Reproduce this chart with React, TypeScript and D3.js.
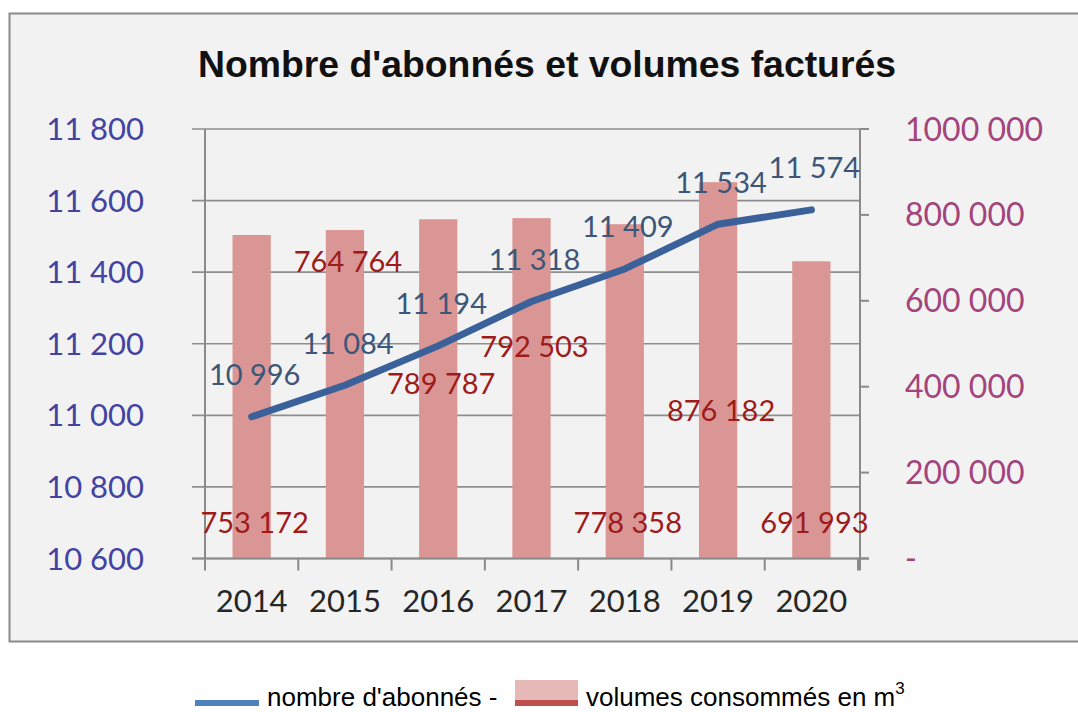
import React from "react";
import * as d3 from "d3";

const years = ["2014", "2015", "2016", "2017", "2018", "2019", "2020"];
const subscribers = [10996, 11084, 11194, 11318, 11409, 11534, 11574];
const volumes = [753172, 764764, 789787, 792503, 778358, 876182, 691993];
// where each volume label sits, expressed on the volume axis
const volumeLabelAnchor = [60000, 668000, 384000, 470000, 60000, 321000, 60000];
const leftTicks = [10600, 10800, 11000, 11200, 11400, 11600, 11800];
const leftTickLabels = ["10 600", "10 800", "11 000", "11 200", "11 400", "11 600", "11 800"];
const rightTicks = [0, 200000, 400000, 600000, 800000, 1000000];
const rightTickLabels = ["-", "200 000", "400 000", "600 000", "800 000", "1000 000"];

const title = "Nombre d'abonnés et volumes facturés";
const legendLine = "nombre d'abonnés -";
const legendBar = "volumes consommés en m";

const W = 1078;
const H = 712;
const PL = 205;
const PR = 860;
const PT = 129;
const PB = 558.5;

const fr = d3.formatLocale({ decimal: ",", thousands: " ", grouping: [3], currency: ["", " €"] });
const fmt = fr.format(",d");

const numFont = "Lato, 'Open Sans', sans-serif";
const arial = "'Liberation Sans', Arial, sans-serif";

export default function App() {
  const x = d3.scaleBand<string>().domain(years).range([PL, PR - 2]).padding(0);
  const yL = d3.scaleLinear().domain([10600, 11800]).range([PB, PT]);
  const yR = d3.scaleLinear().domain([0, 1000000]).range([PB, PT]);
  const bw = x.bandwidth() * 0.41;
  const cx = (d: string) => (x(d) as number) + x.bandwidth() / 2;

  const line = d3
    .line<number>()
    .x((_, i) => cx(years[i]))
    .y((v) => yL(v));

  const gridColor = "#8e8e8e";

  return (
    <svg
      width={W}
      height={H}
      style={{ position: "absolute", left: 0, top: 0, background: "#ffffff" }}
    >
      <rect x={9.5} y={13.5} width={1100} height={628} fill="#f2f2f2" stroke="#8a8a8a" strokeWidth={2} />

      <text
        x={547}
        y={77}
        textAnchor="middle"
        fontFamily={arial}
        fontWeight="bold"
        fontSize={37}
        textLength={698}
        lengthAdjust="spacingAndGlyphs"
        fill="#111"
      >
        {title}
      </text>

      {/* gridlines */}
      {leftTicks.map((t) => (
        <line key={"g" + t} x1={PL - 13} x2={PR} y1={yL(t)} y2={yL(t)} stroke={gridColor} strokeWidth={1.6} />
      ))}

      {/* bars */}
      {years.map((yr, i) => (
        <rect
          key={"b" + yr}
          x={cx(yr) - bw / 2}
          y={yR(volumes[i])}
          width={bw}
          height={PB - yR(volumes[i])}
          fill="#da9694"
        />
      ))}

      {/* axes */}
      <line x1={PL} x2={PL} y1={PT} y2={PB + 12} stroke="#8a8a8a" strokeWidth={2} />
      <line x1={PL - 13} x2={PR + 9} y1={PB} y2={PB} stroke="#8a8a8a" strokeWidth={2} />
      <line x1={PR} x2={PR} y1={PT} y2={PB + 12} stroke="#8a8a8a" strokeWidth={2} />
      {years.map((yr) => (
        <line
          key={"xt" + yr}
          x1={(x(yr) as number) + x.bandwidth()}
          x2={(x(yr) as number) + x.bandwidth()}
          y1={PB}
          y2={PB + 12}
          stroke="#8a8a8a"
          strokeWidth={2}
        />
      ))}
      {rightTicks.map((t) => (
        <line key={"rt" + t} x1={PR} x2={PR + 9} y1={yR(t)} y2={yR(t)} stroke="#8a8a8a" strokeWidth={2} />
      ))}

      {/* left axis labels */}
      {leftTicks.map((t, i) => (
        <text
          key={"ll" + t}
          x={144}
          y={yL(t)}
          dy="0.36em"
          textAnchor="end"
          fontFamily={numFont}
          fontSize={31}
          fill="#4343a3"
        >
          {leftTickLabels[i]}
        </text>
      ))}

      {/* right axis labels */}
      {rightTicks.map((t, i) => (
        <text
          key={"rl" + t}
          x={905}
          y={yR(t)}
          dy="0.36em"
          textAnchor="start"
          fontFamily={numFont}
          fontSize={32}
          fill="#a3447c"
        >
          {rightTickLabels[i]}
        </text>
      ))}

      {/* x labels */}
      {years.map((yr) => (
        <text
          key={"xl" + yr}
          x={cx(yr)}
          y={612}
          textAnchor="middle"
          fontFamily={numFont}
          fontSize={31}
          fill="#262626"
        >
          {yr}
        </text>
      ))}

      {/* subscriber line */}
      <path
        d={line(subscribers) || ""}
        fill="none"
        stroke="#3a619a"
        strokeWidth={7}
        strokeLinecap="round"
        strokeLinejoin="round"
      />

      {/* subscriber labels */}
      {years.map((yr, i) => (
        <text
          key={"sl" + yr}
          x={cx(yr) + 3}
          y={yL(subscribers[i]) - 31.5}
          textAnchor="middle"
          fontFamily={numFont}
          fontSize={29}
          fill="#3b5678"
        >
          {fmt(subscribers[i])}
        </text>
      ))}

      {/* volume labels */}
      {years.map((yr, i) => (
        <text
          key={"vl" + yr}
          x={cx(yr) + 3}
          y={yR(volumeLabelAnchor[i])}
          textAnchor="middle"
          fontFamily={numFont}
          fontSize={29}
          fill="#9e1b1b"
        >
          {fmt(volumes[i])}
        </text>
      ))}

      {/* legend */}
      <rect x={195} y={700} width={64} height={6} fill="#4f81bd" />
      <text x={267} y={706} fontFamily={arial} fontSize={26} fill="#000">
        {legendLine}
      </text>
      <rect x={515} y={680} width={63} height={26} fill="#e6b9b8" />
      <rect x={515} y={700} width={63} height={6} fill="#c0504d" />
      <text x={586} y={706} fontFamily={arial} fontSize={26} fill="#000">
        {legendBar}
        <tspan fontSize={17} dy={-12}>
          3
        </tspan>
      </text>
    </svg>
  );
}
